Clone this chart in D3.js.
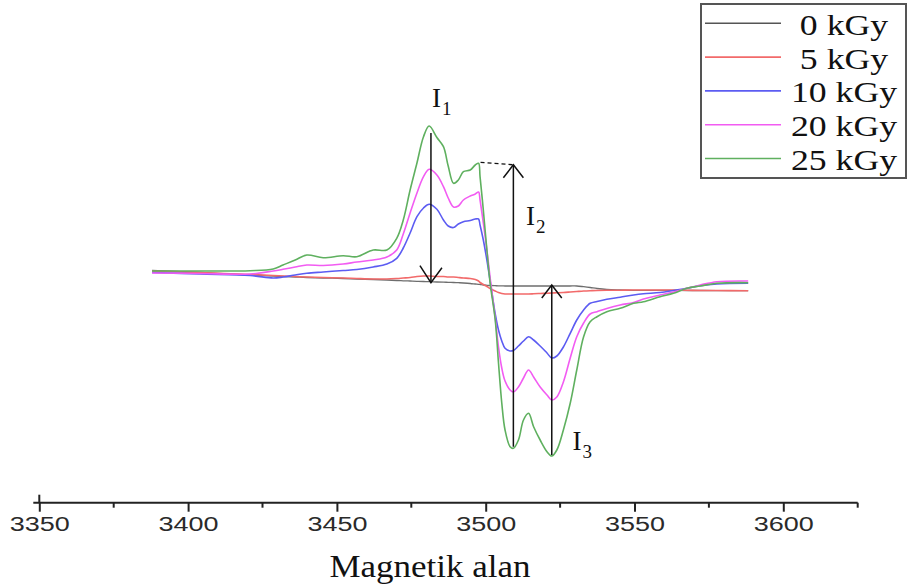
<!DOCTYPE html>
<html>
<head>
<meta charset="utf-8">
<script src="https://cdn.jsdelivr.net/npm/d3@7"></script>
<style>
	body { margin: 0; background: #fff; }
	svg { display: block; }
	.curve { fill: none; stroke-width: 1.6; stroke-linejoin: round; }
	.serif { font-family: "Liberation Serif", "Times New Roman", serif; fill: #111; }
	.arrow { fill: none; stroke: #111; stroke-width: 1.5; }
</style>
</head>
<body>
<svg id="chart" width="908" height="588"></svg>
<script>
// magnetic field (G) at which the spectra were read
var fields = [3387.9, 3404.0, 3420.8, 3428.6, 3431.9, 3436.0, 3439.9, 3445.4, 3452.1, 3456.7,
	3462.2, 3466.8, 3470.1, 3472.3, 3474.6, 3476.9, 3479.1, 3481.0, 3483.6, 3485.8,
	3487.4, 3489.2, 3490.8, 3492.5, 3494.8, 3496.5, 3497.6, 3498.1, 3499.2, 3500.4,
	3501.5, 3503.2, 3504.3, 3505.4, 3506.5, 3508.2, 3509.3, 3511.0, 3512.7, 3514.4,
	3516.1, 3518.3, 3520.6, 3522.2, 3523.9, 3526.1, 3528.4, 3530.6, 3532.9, 3535.1,
	3537.4, 3540.7, 3545.2, 3549.7, 3553.0, 3558.6, 3563.1, 3567.6, 3572.1, 3577.7, 3588.2];

// EPR signal (arbitrary units) for each dose
var dose0 = [9.5, 7.5, 5, 4, 3.5, 3, 2.5, 2, 1.5, 1,
	0.5, 0, -0.5, -0.8, -1, -1.3, -1.5, -1.7, -2, -2.2,
	-2.3, -2.5, -2.7, -3, -3.5, -4, -4.3, -4.5, -5, -5.3,
	-5.5, -5.7, -5.8, -5.8, -6, -6, -6, -6, -6, -6,
	-6, -6, -6, -6, -6, -6, -6, -6, -6.7, -7.5,
	-8.5, -9.5, -10, -10.3, -10.3, -10.3, -10.4, -10.5, -10.5, -10.6, -10.7];

var dose5 = [9, 7.5, 5.5, 4.5, 4, 3.5, 3, 2.5, 2, 1.5,
	1, 1, 1.5, 2, 2.5, 3.5, 4, 4, 3.5, 3.5,
	3, 3, 2.5, 2, 1.5, 0.5, -1, -2.5, -4.5, -6.5,
	-8.5, -11, -12.5, -13.5, -14, -14, -14, -14, -14, -14,
	-13.8, -13.5, -13.3, -13, -12.8, -12.5, -12, -11.5, -11, -10.7,
	-10.5, -10.3, -10.2, -10, -10, -10, -10, -10.2, -10.5, -10.5, -10.7];

var dose10 = [7.5, 6, 4.5, 2, 3, 5, 6.7, 8, 9.5, 10.5,
	13, 16, 21.7, 32, 47, 63.3, 72, 75.7, 70.7, 60,
	54, 52.5, 56, 58.3, 59.5, 61, 61, 55, 40, 20,
	-1, -34, -50, -61, -68.3, -71, -70.5, -66, -61, -56.7,
	-60, -66, -73, -78, -76, -67, -53.3, -40, -30, -23.3,
	-21.5, -19.3, -17.2, -15, -13.8, -12.5, -10.5, -8.3, -5.7, -4, -3.3];

var dose20 = [7, 6.5, 6, 9, 10.7, 13, 15, 14.5, 16, 18,
	20, 23, 30, 46, 67, 87, 103.3, 110.7, 105, 93.3,
	82, 73, 74, 80, 84, 86, 88, 80, 57, 30,
	2, -38, -67, -88, -101, -110, -112, -107, -98, -90,
	-97, -107, -115, -120, -117, -102, -78, -56.7, -43, -34,
	-31.7, -28.5, -25, -22.5, -19, -15, -12, -8.3, -5, -1.7, -1];

var dose25 = [9, 9, 9.3, 11, 15, 20, 25, 22.3, 24.3, 23.3,
	30, 30, 41.7, 60, 90, 117, 143.3, 154, 142.5, 133.3,
	114, 96.7, 100, 108.3, 110, 115, 116.7, 103.3, 70, 30,
	-3.3, -40, -83, -123, -150, -166.7, -168.3, -160, -140, -133.3,
	-146.7, -160, -171.7, -176, -170, -150, -123.3, -90, -56.7, -41.7,
	-36.7, -31.7, -28.3, -23.3, -21.7, -16.7, -13.3, -8.3, -6, -3.3, -2.7];

var doseLabels = ["0 kGy", "5 kGy", "10 kGy", "20 kGy", "25 kGy"];
var doseColours = ["#6e6e6e", "#f26a6a", "#5c5cf2", "#f25cf2", "#5fb05f"];

var majorTicks = [3350, 3400, 3450, 3500, 3550, 3600];
var minorTicks = [3375, 3425, 3475, 3525, 3575, 3625];

var svg = d3.select("#chart");

var x = d3.scaleLinear().domain([3350, 3625]).range([39.3, 857.7]);
var y = d3.scaleLinear().domain([-200, 200]).range([480, 80]);

var series = [dose0, dose5, dose10, dose20, dose25].map(function(vals, i) {
	return {
		label: doseLabels[i],
		colour: doseColours[i],
		values: vals.map(function(v, j) { return { f: fields[j], v: v }; })
	};
});

// spectra
var line = d3
	.line()
	.x(d => x(d.f))
	.y(d => y(d.v))
	.curve(d3.curveCatmullRom.alpha(0.5));

svg
	.append("g")
	.selectAll("path")
	.data(series)
	.enter()
	.append("path")
	.classed("curve", true)
	.attr("d", d => line(d.values))
	.style("stroke", d => d.colour)
	.style("stroke-width", (d, i) => (i == 0 ? 1.3 : 1.6));

// x axis -----------------------------------------
var axisY = 502.7;
var axisG = svg.append("g").attr("transform", "translate(0," + axisY + ")");

axisG
	.call(
		d3
			.axisBottom(x)
			.tickValues(majorTicks)
			.tickSize(9)
			.tickSizeOuter(0)
			.tickFormat(d3.format("d"))
	)
	.call(g => g.select(".domain").attr("d", "M" + (x(3350) - 6) + ",0H" + x(3625)));

axisG.selectAll("line, path").attr("stroke", "#222").attr("stroke-width", 2);
axisG
	.selectAll("text")
	.attr("dy", null)
	.attr("y", 28.5)
	.attr("fill", "#2a2a2a")
	.style("font-family", "'Liberation Sans', Arial, sans-serif")
	.style("font-size", "20px")
	.attr("textLength", 60)
	.attr("lengthAdjust", "spacingAndGlyphs");

// minor ticks
axisG
	.selectAll(".minor")
	.data(minorTicks)
	.enter()
	.append("line")
	.classed("minor", true)
	.attr("x1", d => x(d))
	.attr("x2", d => x(d))
	.attr("y1", 0)
	.attr("y2", 5)
	.attr("stroke", "#222")
	.attr("stroke-width", 2);

// the first tick crosses the axis
axisG
	.append("line")
	.attr("x1", x(3350))
	.attr("x2", x(3350))
	.attr("y1", -8)
	.attr("y2", 0)
	.attr("stroke", "#222")
	.attr("stroke-width", 2);

svg
	.append("text")
	.classed("serif", true)
	.attr("x", 430)
	.attr("y", 577)
	.attr("text-anchor", "middle")
	.style("font-size", "32px")
	.attr("textLength", 201)
	.attr("lengthAdjust", "spacingAndGlyphs")
	.text("Magnetik alan");

// intensity markers I1, I2, I3 -------------------
var green = series[4].values;
var peak = d3.greatest(green, d => d.v);
var trough = d3.least(green, d => d.v);
// second peak and first trough of 25 kGy
var peak2 = d3.greatest(green.filter(d => d.f > 3494 && d.f < 3500), d => d.v);
var trough1 = d3.least(green.filter(d => d.f > 3505 && d.f < 3514), d => d.v);
var base = series[0].values;
function baseAt(f) {
	return d3.least(base, d => Math.abs(d.f - f)).v;
}

var markers = [
	{ name: "1", f: peak.f + 0.6, top: peak.v - 7, bottom: baseAt(peak.f) - 1, head: "bottom", lx: 432, ly: 106.7 },
	{ name: "2", f: trough1.f, top: peak2.v - 1.5, bottom: trough1.v + 1.5, head: "top", lx: 526, ly: 225 },
	{ name: "3", f: trough.f, top: baseAt(trough.f) + 1, bottom: trough.v + 1, head: "top", lx: 572.5, ly: 450 }
];

var markG = svg.append("g");

markG
	.selectAll(".shaft")
	.data(markers)
	.enter()
	.append("line")
	.classed("arrow", true)
	.attr("x1", d => x(d.f))
	.attr("x2", d => x(d.f))
	.attr("y1", d => y(d.top))
	.attr("y2", d => y(d.bottom));

// open arrow heads
markG
	.selectAll(".head")
	.data(markers)
	.enter()
	.append("path")
	.classed("arrow", true)
	.attr("d", function(d) {
		var cx = x(d.f);
		if (d.head == "bottom") {
			var ty = y(d.bottom);
			return "M" + (cx - 11) + "," + (ty - 17) + "L" + cx + "," + ty + "L" + (cx + 11) + "," + (ty - 15);
		}
		var ty = y(d.top);
		return "M" + (cx - 10) + "," + (ty + 13) + "L" + cx + "," + ty + "L" + (cx + 10) + "," + (ty + 13);
	});

// dashed guide from the second peak to I2
markG
	.append("line")
	.attr("x1", x(peak2.f) + 2)
	.attr("x2", x(markers[1].f))
	.attr("y1", y(peak2.v) - 1)
	.attr("y2", y(markers[1].top))
	.attr("stroke", "#111")
	.attr("stroke-width", 1.3)
	.attr("stroke-dasharray", "4,3");

var labels = markG
	.selectAll(".mlabel")
	.data(markers)
	.enter()
	.append("text")
	.classed("serif", true)
	.attr("x", d => d.lx)
	.attr("y", d => d.ly)
	.style("font-size", "27px");

labels.append("tspan").text("I");
labels
	.append("tspan")
	.attr("dy", 8)
	.attr("dx", 1)
	.style("font-size", "19px")
	.text(d => d.name);

// legend -----------------------------------------
var legend = svg.append("g");

legend
	.append("rect")
	.attr("x", 701)
	.attr("y", 4)
	.attr("width", 205)
	.attr("height", 174)
	.attr("fill", "#fff")
	.attr("stroke", "#555")
	.attr("stroke-width", 2);

var rows = legend
	.selectAll(".row")
	.data(series)
	.enter()
	.append("g")
	.classed("row", true)
	.attr("transform", (d, i) => "translate(0," + (23.3 + i * 33.8) + ")");

rows
	.append("line")
	.attr("x1", 705)
	.attr("x2", 781)
	.attr("stroke", (d, i) => (i == 0 ? "#555" : d.colour))
	.attr("stroke-width", 1.6);

rows
	.append("text")
	.classed("serif", true)
	.attr("x", 844)
	.attr("y", 11.5)
	.attr("text-anchor", "middle")
	.style("font-size", "30px")
	.text(d => d.label)
	.each(function() {
		var len = this.getComputedTextLength();
		d3.select(this)
			.attr("textLength", len * 1.19)
			.attr("lengthAdjust", "spacingAndGlyphs");
	});
</script>
</body>
</html>
